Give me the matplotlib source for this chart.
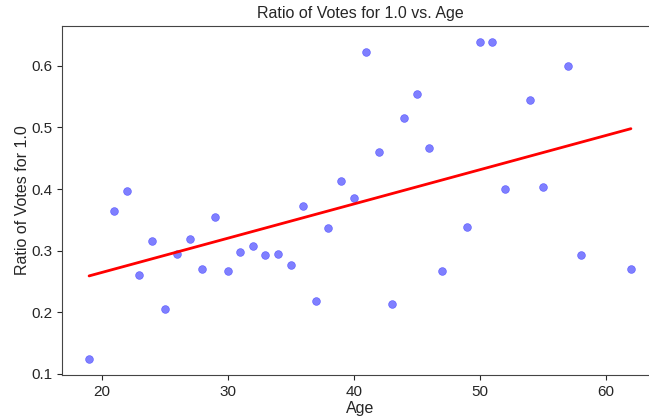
import numpy as np
import matplotlib
matplotlib.use("Agg")
import matplotlib.pyplot as plt
import seaborn as sns

# ages and share of votes for 1.0
ages = [19, 21, 22, 23, 24, 25, 26, 27, 28, 29, 30, 31, 32, 33, 34, 35, 36, 37,
        38, 39, 40, 41, 42, 43, 44, 45, 46, 47, 49, 50, 51, 52, 54, 55, 57, 58, 62]
ratios = [0.124, 0.365, 0.397, 0.260, 0.315, 0.206, 0.294, 0.319, 0.270, 0.355,
          0.267, 0.298, 0.308, 0.293, 0.294, 0.276, 0.372, 0.218, 0.337, 0.413,
          0.386, 0.623, 0.461, 0.214, 0.515, 0.555, 0.467, 0.267, 0.339, 0.639,
          0.639, 0.400, 0.545, 0.404, 0.600, 0.293, 0.271]

sns.set_style("ticks")
plt.rcParams['font.family'] = ['Liberation Sans', 'DejaVu Sans']

x = np.array(ages, dtype=float)
y = np.array(ratios)

fig = plt.figure(figsize=(6.49, 4.16), dpi=100)
# axes run past the right edge, as in the cropped reference
ax = fig.add_axes([62 / 649, 41 / 416, 596 / 649, 349 / 416])

ax.scatter(x, y, color='blue', alpha=0.5, s=32, linewidths=0.4)

fit = np.poly1d(np.polyfit(x, y, 1))
xs = np.array([x.min(), x.max()])
ax.plot(xs, fit(xs), color='red', linewidth=2)

ax.set_title("Ratio of Votes for 1.0 vs. Age", fontsize=11.5)
ax.set_xlabel("Age", fontsize=11.5, labelpad=2)
ax.set_ylabel("Ratio of Votes for 1.0", fontsize=11.5, labelpad=1)
ax.tick_params(labelsize=11)
for s in ax.spines.values():
    s.set_color('#444444')

fig.savefig("out.png", dpi=100)
